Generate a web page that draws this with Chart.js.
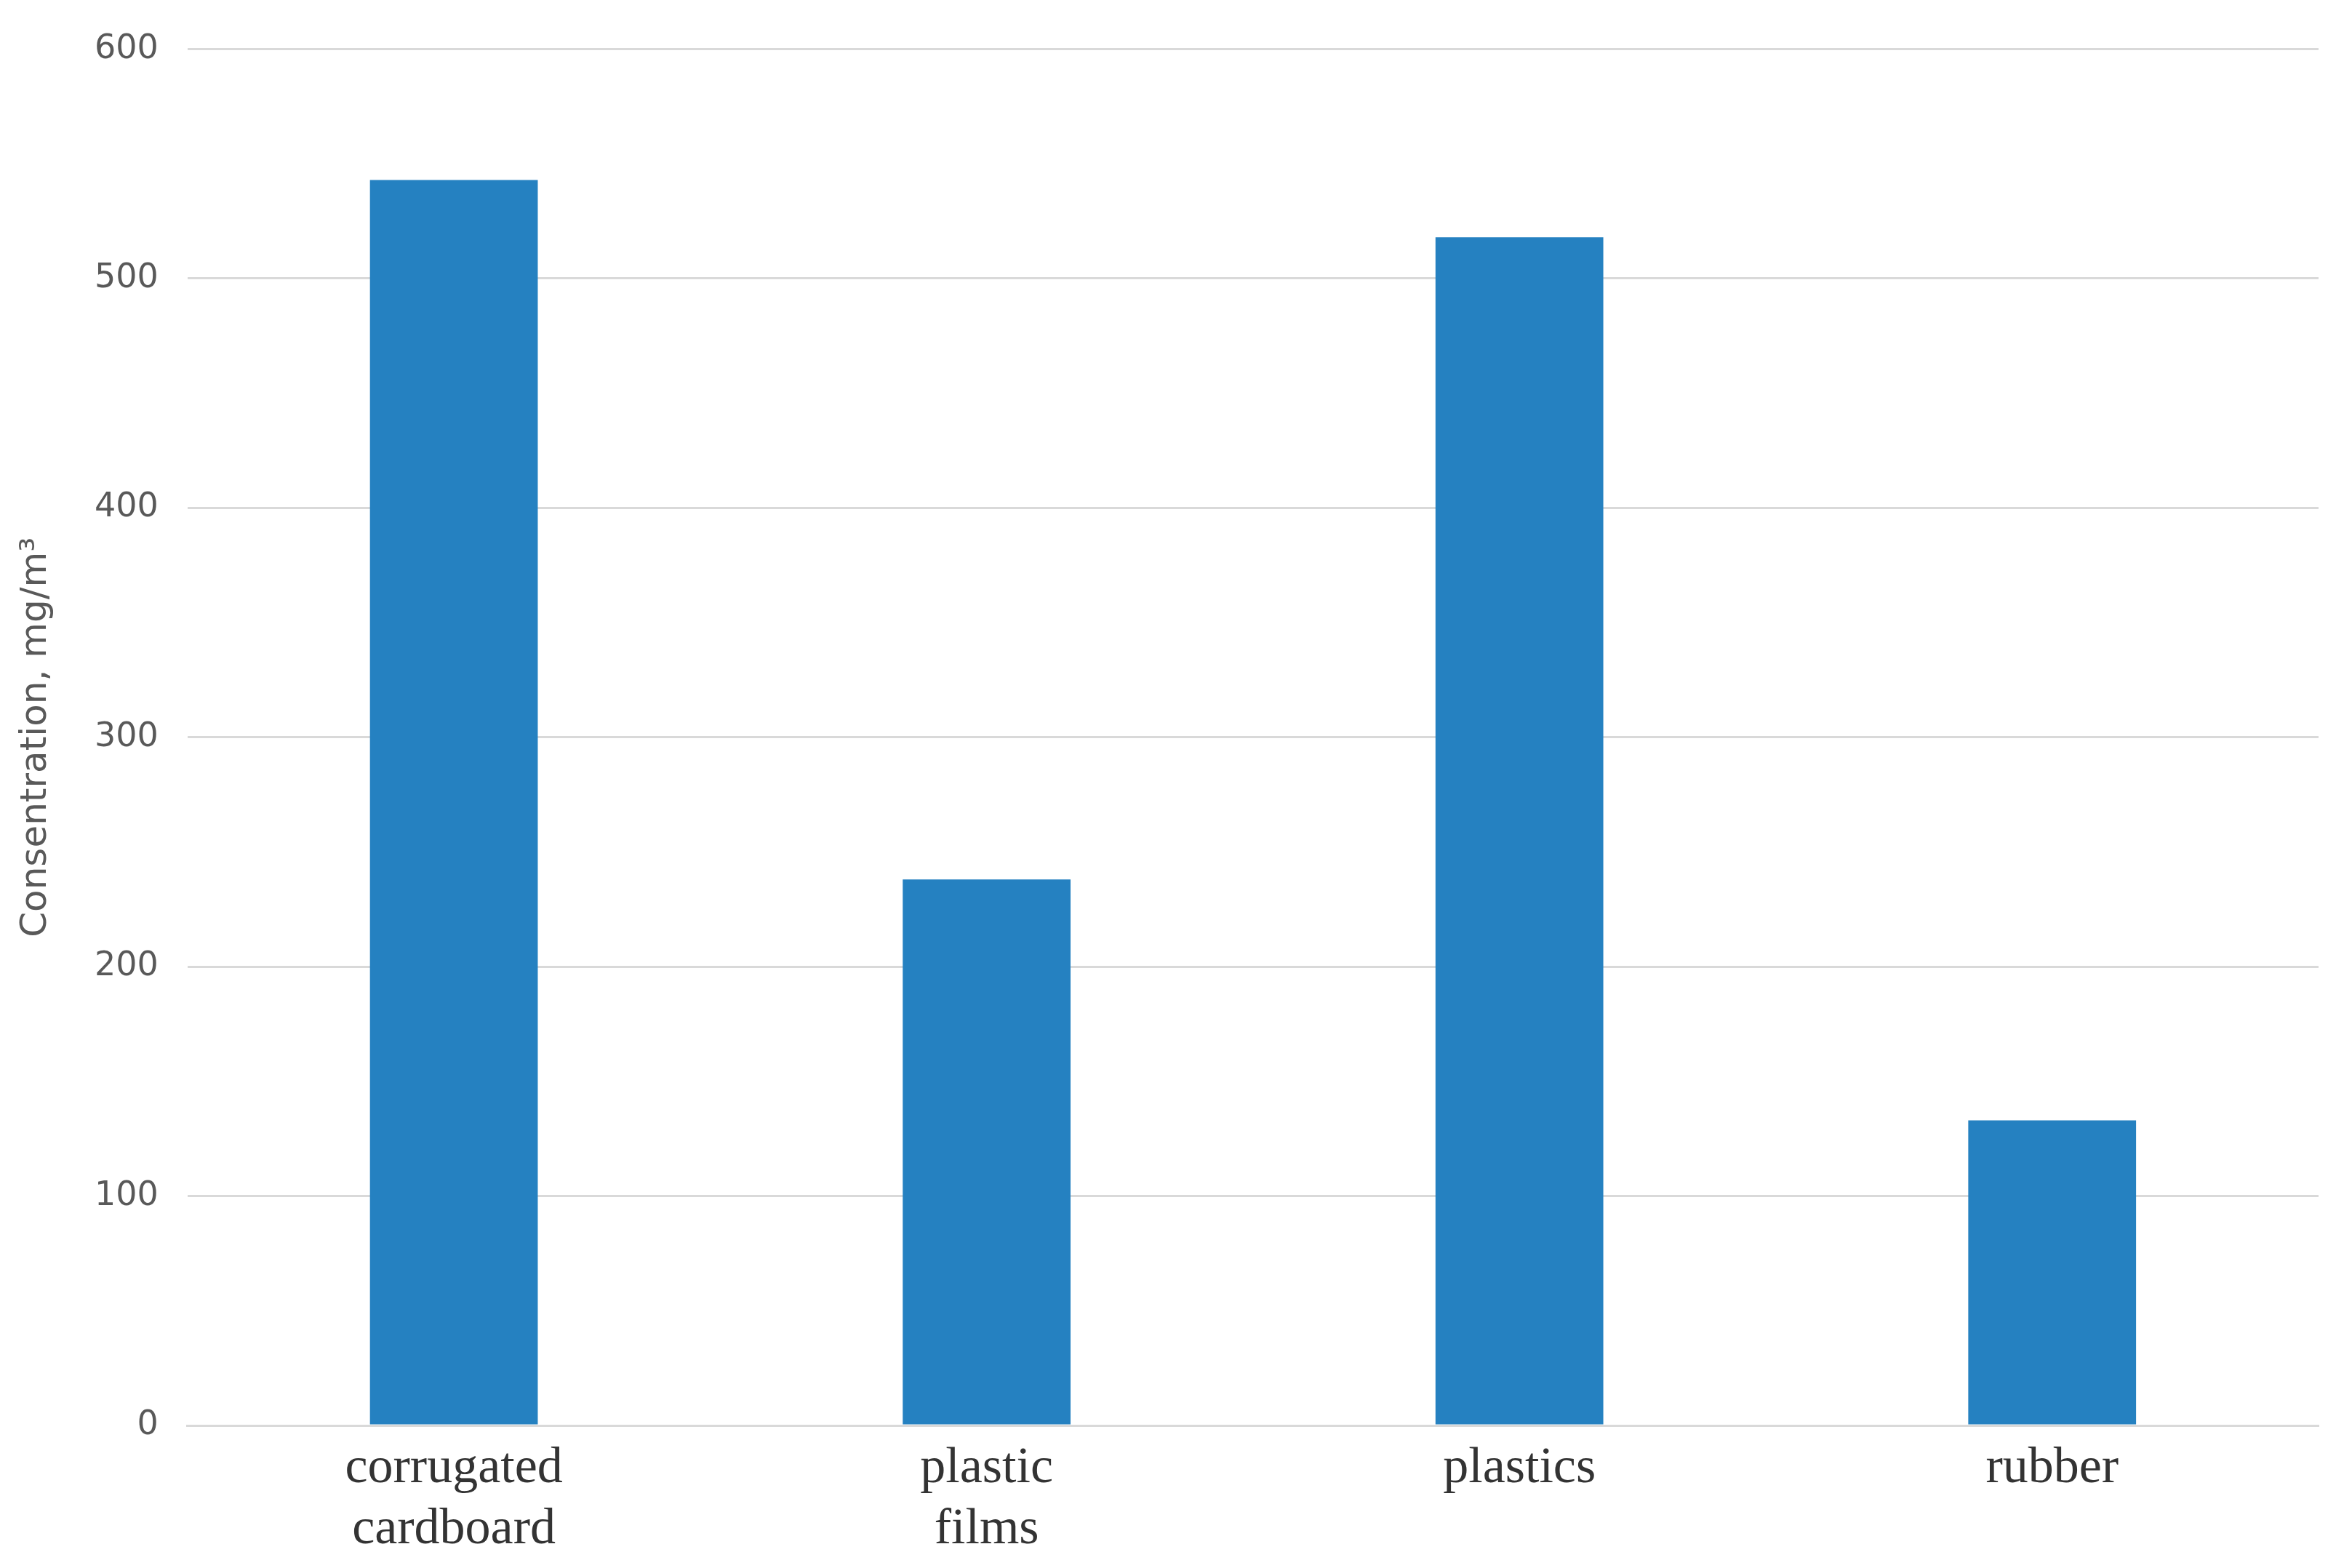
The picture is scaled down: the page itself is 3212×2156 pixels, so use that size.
<!DOCTYPE html>
<html>
<head>
<meta charset="utf-8">
<script src="https://cdn.jsdelivr.net/npm/chart.js@4"></script>
<style>
  html, body { margin: 0; padding: 0; background: #fff; }
  #wrap { width: 3212px; height: 2156px; }
</style>
</head>
<body>
<div id="wrap"><canvas id="chart"></canvas></div>
<script>
// data
const categories = [["corrugated", "cardboard"], ["plastic", "films"], "plastics", "rubber"];
const concentration = [543, 238, 518, 133];
const yTicks = [0, 100, 200, 300, 400, 500, 600];

const ctx = document.getElementById("chart").getContext("2d");
new Chart(ctx, {
  type: "bar",
  data: {
    labels: categories,
    datasets: [{
      data: concentration,
      backgroundColor: "#2581C1",
      categoryPercentage: 1,
      barPercentage: 0.315,
    }],
  },
  options: {
    responsive: true,
    maintainAspectRatio: false,
    animation: false,
    layout: { padding: { top: 30, right: 24, bottom: 0, left: 10 } },
    plugins: { legend: { display: false }, tooltip: { enabled: false } },
    scales: {
      x: {
        grid: { display: false },
        border: { color: "#d9d9d9", width: 3 },
        ticks: {
          color: "#333",
          font: { family: "Liberation Serif", size: 70 },
          maxRotation: 0,
          padding: 10,
        },
      },
      y: {
        min: 0,
        max: 600,
        afterBuildTicks: (axis) => { axis.ticks = yTicks.map(v => ({ value: v })); },
        grid: { color: "#d9d9d9", lineWidth: 3, drawTicks: false },
        border: { display: false },
        ticks: {
          color: "#595959",
          font: { family: "DejaVu Sans", size: 46 },
          padding: 40,
        },
        title: {
          display: true,
          text: "Consentration, mg/m³",
          color: "#595959",
          font: { family: "DejaVu Sans", size: 50 },
          padding: 10,
        },
      },
    },
  },
});
</script>
</body>
</html>
